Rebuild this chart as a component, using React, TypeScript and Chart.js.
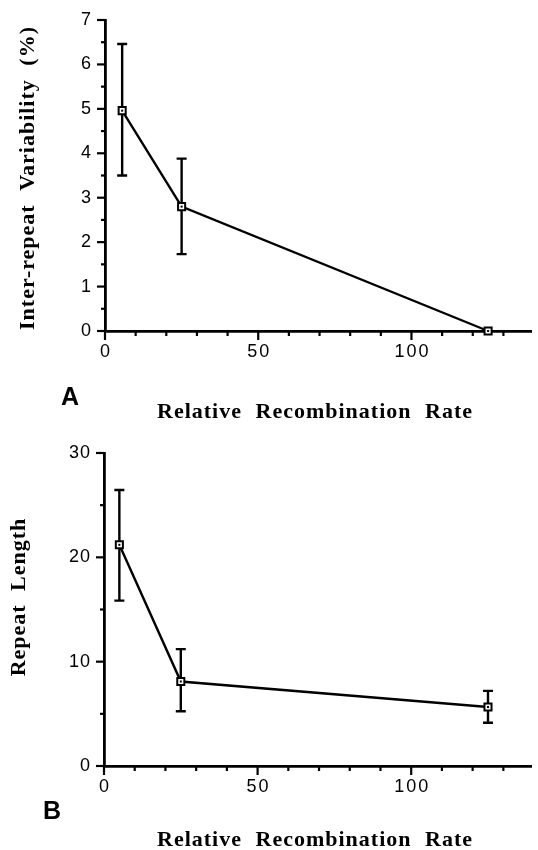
import React, { useEffect, useRef } from 'react';
import { Chart, registerables } from 'chart.js';

Chart.register(...registerables);

// ---------- data ----------
const rateA = [5.6, 25, 125];
const variability = [4.96, 2.8, 0];
const variabilityLow = [3.5, 1.73, null];
const variabilityHigh = [6.46, 3.88, null];

const rateB = [5, 25, 125];
const repeatLength = [21.2, 8.1, 5.65];
const repeatLow = [15.85, 5.25, 4.15];
const repeatHigh = [26.45, 11.2, 7.2];

const xTickValues = [0, 10, 20, 30, 40, 50, 60, 70, 80, 90, 100, 110, 120, 130];
const xTickLabels = ['0', '50', '100'];
const yTickValuesA = [0, 0.5, 1, 1.5, 2, 2.5, 3, 3.5, 4, 4.5, 5, 5.5, 6, 6.5, 7];
const yTickLabelsA = ['0', '1', '2', '3', '4', '5', '6', '7'];
const yTickValuesB = [0, 5, 10, 15, 20, 25, 30];
const yTickLabelsB = ['0', '10', '20', '30'];

const xTitle = 'Relative Recombination Rate';
const yTitleA = 'Inter-repeat Variability (%)';
const yTitleB = 'Repeat Length';

// ---------- layout ----------
const W = 538;
const H = 425;

type Panel = {
  xs: number[];
  ys: number[];
  lo: (number | null)[];
  hi: (number | null)[];
  xMax: number;
  yMax: number;
  yTicks: number[];
  yLabels: string[];
  yTitle: string;
  letter: string;
  offset: number;
  area: { left: number; top: number; right: number; bottom: number };
  yTitlePos: [number, number];
  xTitlePos: [number, number];
  letterPos: [number, number];
};

const panels: Panel[] = [
  {
    xs: rateA, ys: variability, lo: variabilityLow, hi: variabilityHigh,
    xMax: 139, yMax: 7, yTicks: yTickValuesA, yLabels: yTickLabelsA,
    yTitle: yTitleA, letter: 'A', offset: 0,
    area: { left: 105, top: 20, right: 537, bottom: 331 },
    yTitlePos: [28, 178], xTitlePos: [315, 412], letterPos: [70, 398],
  },
  {
    xs: rateB, ys: repeatLength, lo: repeatLow, hi: repeatHigh,
    xMax: 139, yMax: 30, yTicks: yTickValuesB, yLabels: yTickLabelsB,
    yTitle: yTitleB, letter: 'B', offset: 425,
    area: { left: 104, top: 28, right: 537, bottom: 341 },
    yTitlePos: [19, 597 - 425], xTitlePos: [315, 840 - 425], letterPos: [52, 812 - 425],
  },
];

function makePlugin(p: Panel) {
  return {
    id: 'panelDecor' + p.letter,
    beforeDatasetsDraw(chart: any) {
      const ctx = chart.ctx as CanvasRenderingContext2D;
      const xs = chart.scales.x;
      const ys = chart.scales.y;
      ctx.save();
      ctx.strokeStyle = '#000';
      ctx.lineWidth = 2.4;
      p.xs.forEach((xv, i) => {
        const l = p.lo[i];
        const h = p.hi[i];
        if (l == null || h == null) return;
        const x = xs.getPixelForValue(xv);
        const yl = ys.getPixelForValue(l);
        const yh = ys.getPixelForValue(h);
        ctx.beginPath();
        ctx.moveTo(x, yl);
        ctx.lineTo(x, yh);
        ctx.moveTo(x - 5, yl);
        ctx.lineTo(x + 5, yl);
        ctx.moveTo(x - 5, yh);
        ctx.lineTo(x + 5, yh);
        ctx.stroke();
      });
      ctx.restore();
    },
    afterDatasetsDraw(chart: any) {
      const ctx = chart.ctx as CanvasRenderingContext2D;
      const meta = chart.getDatasetMeta(0);
      ctx.save();
      ctx.fillStyle = '#000';
      meta.data.forEach((pt: any) => {
        ctx.fillRect(pt.x - 1, pt.y - 1, 2, 2);
      });
      ctx.restore();
    },
    afterDraw(chart: any) {
      const ctx = chart.ctx as CanvasRenderingContext2D & { letterSpacing?: string; wordSpacing?: string };
      const xs = chart.scales.x;
      const ys = chart.scales.y;
      const ca = chart.chartArea;
      ctx.save();
      ctx.strokeStyle = '#000';
      ctx.fillStyle = '#000';
      ctx.lineWidth = 2.2;
      // x ticks
      xTickValues.forEach((v) => {
        const px = xs.getPixelForValue(v);
        const major = v % 50 === 0;
        ctx.beginPath();
        ctx.moveTo(px, ca.bottom);
        ctx.lineTo(px, ca.bottom + (major ? 9 : 5));
        ctx.stroke();
      });
      // y ticks
      p.yTicks.forEach((v, i) => {
        const py = ys.getPixelForValue(v);
        const major = i % 2 === 0;
        ctx.beginPath();
        ctx.moveTo(ca.left, py);
        ctx.lineTo(ca.left - (major ? 8 : 4), py);
        ctx.stroke();
      });
      // tick labels
      ctx.font = '18px "Liberation Sans", Arial, sans-serif';
      ctx.textBaseline = 'middle';
      ctx.textAlign = 'center';
      ctx.letterSpacing = '2px';
      xTickLabels.forEach((s) => {
        const px = xs.getPixelForValue(Number(s));
        ctx.fillText(s, px + 1, ca.bottom + 21);
      });
      ctx.textAlign = 'right';
      ctx.letterSpacing = '1px';
      p.yLabels.forEach((s) => {
        const py = ys.getPixelForValue(Number(s));
        ctx.fillText(s, ca.left - 13, py);
      });
      // axis titles
      ctx.font = 'bold 22px "Liberation Serif", "Times New Roman", serif';
      ctx.letterSpacing = '1px';
      ctx.wordSpacing = '7px';
      ctx.textAlign = 'center';
      ctx.fillText(xTitle, p.xTitlePos[0], p.xTitlePos[1]);
      ctx.save();
      ctx.translate(p.yTitlePos[0], p.yTitlePos[1]);
      ctx.rotate(-Math.PI / 2);
      ctx.fillText(p.yTitle, 0, 0);
      ctx.restore();
      // panel letter
      ctx.letterSpacing = '0px';
      ctx.wordSpacing = '0px';
      ctx.font = 'bold 25px "Liberation Sans", Arial, sans-serif';
      ctx.fillText(p.letter, p.letterPos[0], p.letterPos[1]);
      ctx.restore();
    },
  };
}

function buildConfig(p: Panel): any {
  return {
    type: 'line',
    data: {
      datasets: [
        {
          data: p.xs.map((x, i) => ({ x, y: p.ys[i] })),
          borderColor: '#000',
          borderWidth: 2.4,
          tension: 0,
          pointStyle: 'rect',
          pointRadius: 5,
          pointBorderWidth: 2,
          pointBackgroundColor: '#fff',
          pointBorderColor: '#000',
          clip: false,
        },
      ],
    },
    options: {
      responsive: false,
      animation: false,
      devicePixelRatio: 1,
      layout: { padding: { top: p.area.top, right: W - p.area.right, left: 0, bottom: 0 } },
      plugins: { legend: { display: false }, tooltip: { enabled: false }, title: { display: false } },
      scales: {
        x: {
          type: 'linear',
          min: 0,
          max: p.xMax,
          afterBuildTicks: (s: any) => { s.ticks = xTickValues.map((v) => ({ value: v })); },
          afterFit: (s: any) => { s.height = H - p.area.bottom; },
          ticks: { display: false },
          grid: { display: false },
          border: { display: true, color: '#000', width: 2.8 },
        },
        y: {
          type: 'linear',
          min: 0,
          max: p.yMax,
          afterBuildTicks: (s: any) => { s.ticks = p.yTicks.map((v) => ({ value: v })); },
          afterFit: (s: any) => { s.width = p.area.left; },
          ticks: { display: false },
          grid: { display: false },
          border: { display: true, color: '#000', width: 2.8 },
        },
      },
    },
    plugins: [makePlugin(p)],
  };
}

function PanelChart({ panel }: { panel: Panel }) {
  const ref = useRef<HTMLCanvasElement>(null);
  useEffect(() => {
    const chart = new Chart(ref.current as HTMLCanvasElement, buildConfig(panel));
    return () => chart.destroy();
  }, [panel]);
  return (
    <canvas
      ref={ref}
      width={W}
      height={H}
      style={{ position: 'absolute', left: 0, top: panel.offset, width: W, height: H, display: 'block' }}
    />
  );
}

export default function App() {
  return (
    <div style={{ position: 'absolute', left: 0, top: 0, width: W, height: 850, background: '#fff' }}>
      {panels.map((p) => (
        <PanelChart key={p.letter} panel={p} />
      ))}
    </div>
  );
}
